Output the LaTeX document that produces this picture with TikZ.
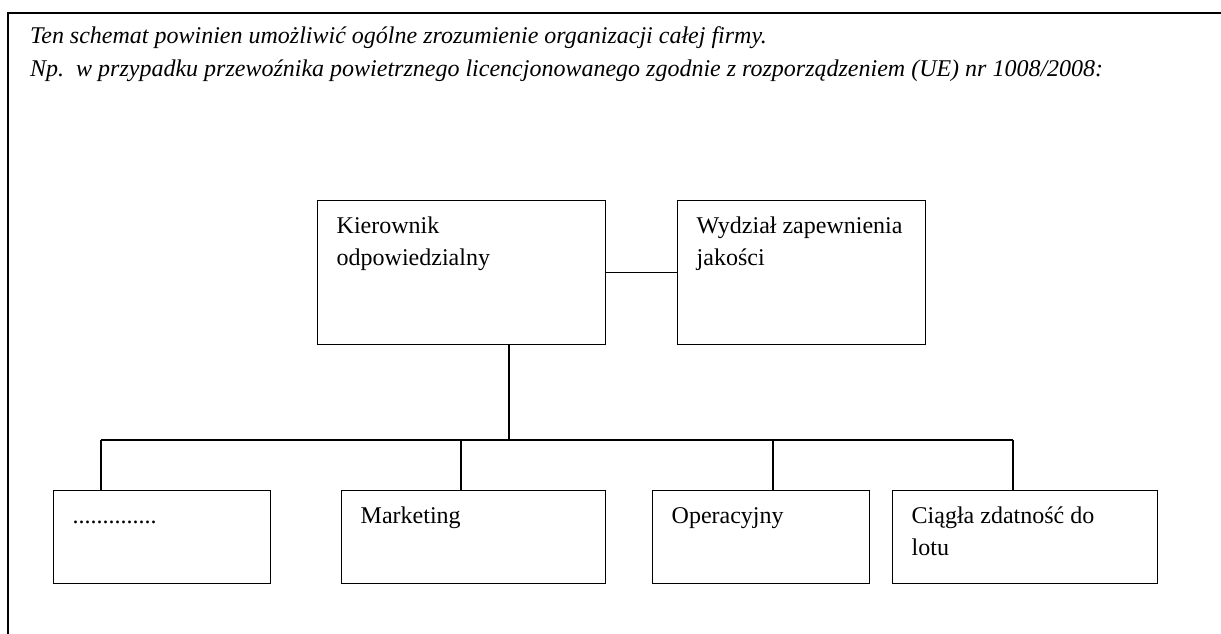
\documentclass[tikz,border=0pt]{standalone}
\usepackage{fontspec}
\setmainfont{Liberation Serif}
\begin{document}
\begin{tikzpicture}[x=1pt,y=-1pt,
  box/.style={draw, line width=1.4pt, inner xsep=19pt, inner ysep=0pt, anchor=north west, font=\fontsize{24}{32}\selectfont},
  wire/.style={line width=1.4pt},
  frame/.style={line width=2pt},
  head/.style={anchor=base west, inner sep=0pt, font=\itshape\fontsize{24}{28}\selectfont}]
\useasboundingbox (0,0) rectangle (1221,634);
% frame
\coordinate (ftr) at (1221,12.7);
\coordinate (ftl) at (7.5,12.7);
\coordinate (fbl) at (7.5,634);
\draw[frame] (ftr) -- (ftl) -- (fbl);
% header
\node[head] (h1) at (30,44) {Ten schemat powinien umożliwić ogólne zrozumienie organizacji całej firmy.};
\node[head] (h2) at (30,77) {Np.\ \ w przypadku przewoźnika powietrznego licencjonowanego zgodnie z rozporządzeniem (UE) nr 1008/2008:};
% top boxes
\node[box] (k) at (317,200) {\parbox[c][144pt][t]{250pt}{\raggedright\rule{0pt}{33pt}Kierownik\\odpowiedzialny}};
\node[box] (w) at (677,200) {\parbox[c][144pt][t]{210pt}{\raggedright\rule{0pt}{33pt}Wydział zapewnienia\\jakości}};
% bottom boxes
\node[box] (b1) at (53,490) {\parbox[c][93pt][t]{179pt}{\raggedright\rule{0pt}{33pt}..............}};
\node[box] (b2) at (341,490) {\parbox[c][93pt][t]{226pt}{\raggedright\rule{0pt}{33pt}Marketing}};
\node[box] (b3) at (652,490) {\parbox[c][93pt][t]{179pt}{\raggedright\rule{0pt}{33pt}Operacyjny}};
\node[box] (b4) at (892,490) {\parbox[c][93pt][t]{227pt}{\raggedright\rule{0pt}{33pt}Ciągła zdatność do\\lotu}};
% connectors
\coordinate (j) at (509,440);
\coordinate (d1) at (101,440);
\coordinate (d2) at (461,440);
\coordinate (d3) at (773,440);
\coordinate (d4) at (1013,440);
\draw[wire] (k.east) -- (w.west);
\draw[wire] (k.south -| j) -- (j);
\draw[wire] (d1) -- (d4);
\draw[wire] (d1) -- (d1 |- b1.north);
\draw[wire] (d2) -- (d2 |- b2.north);
\draw[wire] (d3) -- (d3 |- b3.north);
\draw[wire] (d4) -- (d4 |- b4.north);
\end{tikzpicture}
\end{document}
